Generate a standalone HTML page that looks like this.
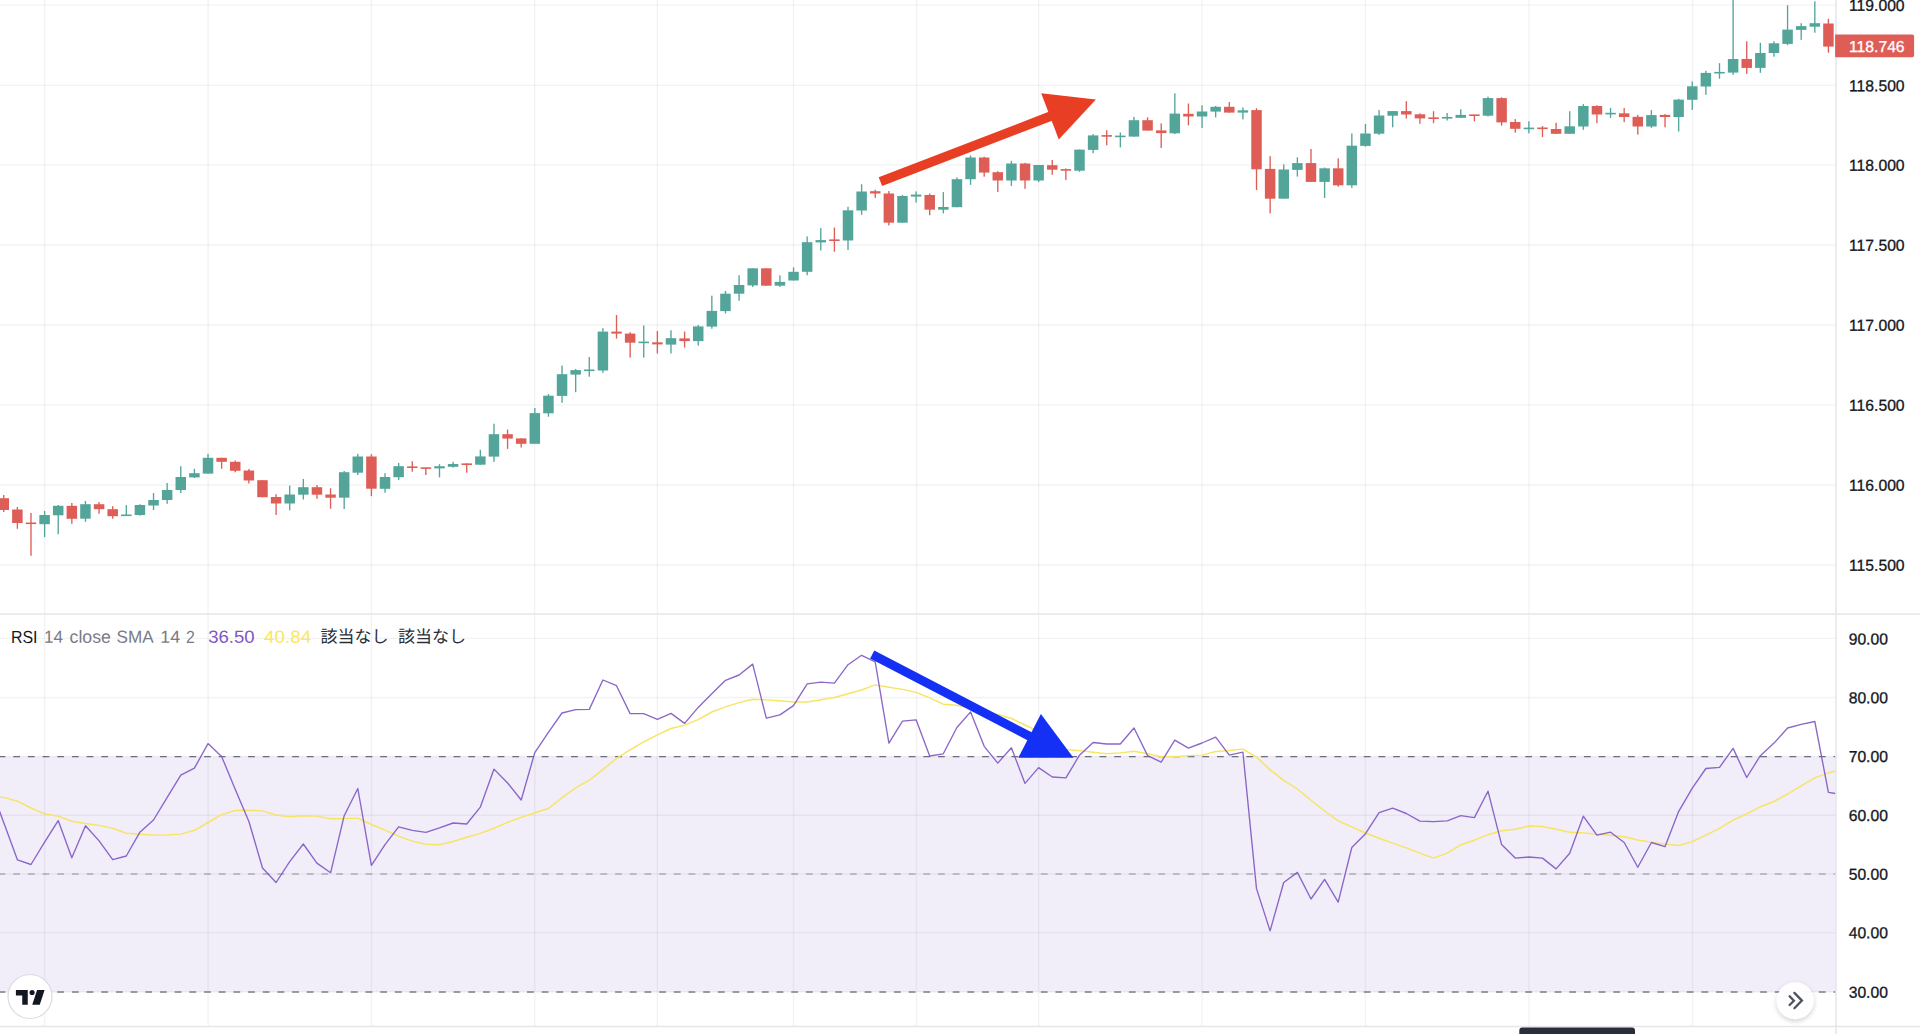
<!DOCTYPE html>
<html lang="ja"><head><meta charset="utf-8"><title>RSI divergence chart</title>
<style>html,body{margin:0;padding:0;background:#fff}body{width:1920px;height:1034px;overflow:hidden;position:relative;font-family:"Liberation Sans","Noto Sans CJK JP",sans-serif}svg{position:absolute;left:0;top:0;display:block}text{font-family:"Liberation Sans","Noto Sans CJK JP",sans-serif}</style></head><body>
<svg width="1920" height="1034" viewBox="0 0 1920 1034">
<rect width="1920" height="1034" fill="#fff"/>
<g stroke="#1e2828" stroke-opacity="0.056" stroke-width="1.4" fill="none">
<path d="M44.6 0V1026"/>
<path d="M208.1 0V1026"/>
<path d="M371.5 0V1026"/>
<path d="M534.7 0V1026"/>
<path d="M657.3 0V1026"/>
<path d="M793.5 0V1026"/>
<path d="M916.5 0V1026"/>
<path d="M1038.7 0V1026"/>
<path d="M1202 0V1026"/>
<path d="M1365.5 0V1026"/>
<path d="M1529 0V1026"/>
<path d="M1692.5 0V1026"/>
<path d="M0 5.1H1836.0"/>
<path d="M0 85.4H1836.0"/>
<path d="M0 164.9H1836.0"/>
<path d="M0 245H1836.0"/>
<path d="M0 325H1836.0"/>
<path d="M0 404.9H1836.0"/>
<path d="M0 485H1836.0"/>
<path d="M0 565H1836.0"/>
<path d="M0 638.4H1836.0"/>
<path d="M0 697.5H1836.0"/>
<path d="M0 756.5H1836.0"/>
<path d="M0 815.3H1836.0"/>
<path d="M0 874H1836.0"/>
<path d="M0 932.6H1836.0"/>
<path d="M0 992H1836.0"/>
</g>
<rect x="0" y="756.6" width="1836.0" height="235.4" fill="#7e57c2" fill-opacity="0.105"/>
<path d="M0 756.55H1835.5" stroke="#6c6d7e" stroke-width="1.3" stroke-dasharray="6.8 7.88" stroke-dashoffset="1.47" fill="none"/>
<path d="M0 874H1835.5" stroke="#787b86" stroke-opacity="0.55" stroke-width="1.4" stroke-dasharray="6.8 7.88" stroke-dashoffset="1.47" fill="none"/>
<path d="M0 992H1835.5" stroke="#7f7d8a" stroke-width="1.4" stroke-dasharray="6.8 7.88" stroke-dashoffset="1.47" fill="none"/>
<polyline points="-9.9,797.0 3.8,797.4 17.4,801.2 31.0,808.0 44.6,813.8 58.2,816.3 71.8,821.2 85.5,823.5 99.1,825.4 112.7,828.3 126.3,833.2 139.9,834.3 153.5,835.1 167.2,834.9 180.8,834.1 194.4,830.3 208.0,822.5 221.6,814.6 235.2,810.5 248.9,810.3 262.5,810.9 276.1,815.0 289.7,816.7 303.3,815.7 316.9,816.1 330.6,818.8 344.2,818.6 357.8,818.1 371.4,824.5 385.0,830.2 398.6,836.2 412.3,841.1 425.9,844.3 439.5,844.7 453.1,841.5 466.7,837.2 480.3,833.4 494.0,828.3 507.6,822.3 521.2,817.4 534.8,812.8 548.4,808.5 562.0,797.7 575.7,787.9 589.3,780.2 602.9,769.6 616.5,758.3 630.1,749.8 643.7,741.9 657.4,734.9 671.0,728.5 684.6,725.1 698.2,719.6 711.8,712.0 725.5,706.9 739.1,702.6 752.7,699.2 766.3,699.9 779.9,700.7 793.5,702.0 807.2,702.0 820.8,699.8 834.4,697.5 848.0,693.8 861.6,690.0 875.2,684.9 888.9,687.2 902.5,689.4 916.1,692.4 929.7,697.9 943.3,704.2 956.9,705.2 970.6,708.0 984.2,711.2 997.8,714.5 1011.4,718.5 1025.0,725.0 1038.6,731.3 1052.3,742.0 1065.9,749.5 1079.5,750.6 1093.1,752.2 1106.7,753.7 1120.3,752.9 1134.0,751.3 1147.6,753.7 1161.2,756.8 1174.8,756.6 1188.4,755.6 1202.0,755.1 1215.7,751.5 1229.3,750.5 1242.9,749.1 1256.5,757.1 1270.1,769.9 1283.7,780.3 1297.4,789.0 1311.0,800.3 1324.6,811.0 1338.2,820.9 1351.8,826.9 1365.5,833.0 1379.1,838.3 1392.7,843.1 1406.3,847.9 1419.9,853.1 1433.5,858.1 1447.2,853.1 1460.8,844.8 1474.4,840.2 1488.0,834.7 1501.6,830.8 1515.2,829.2 1528.9,826.0 1542.5,826.5 1556.1,829.2 1569.7,832.2 1583.3,832.9 1596.9,834.3 1610.6,835.2 1624.2,836.8 1637.8,840.0 1651.4,842.1 1665.0,844.1 1678.6,845.5 1692.3,841.6 1705.9,835.2 1719.5,828.3 1733.1,820.1 1746.7,813.9 1760.3,806.8 1774.0,801.5 1787.6,794.0 1801.2,785.9 1814.8,777.9 1828.4,772.9 1835.5,771" fill="none" stroke="#f6e562" stroke-width="1.45" stroke-linejoin="round"/>
<polyline points="-9.9,785.5 3.8,822.8 17.4,859.8 31.0,864.5 44.6,842.2 58.2,820.6 71.8,857.7 85.5,825.8 99.1,840.9 112.7,859.7 126.3,856.0 139.9,832.2 153.5,820.0 167.2,797.4 180.8,775.1 194.4,768.2 208.0,743.6 221.6,756.4 235.2,789.2 248.9,821.5 262.5,868.0 276.1,882.5 289.7,861.6 303.3,844.0 316.9,863.1 330.6,872.8 344.2,815.7 357.8,788.5 371.4,865.3 385.0,844.7 398.6,826.8 412.3,830.4 425.9,832.3 439.5,827.9 453.1,823.0 466.7,824.0 480.3,807.2 494.0,769.1 507.6,783.0 521.2,800.0 534.8,752.6 548.4,732.3 562.0,713.0 575.7,709.6 589.3,709.4 602.9,680.0 616.5,685.7 630.1,713.6 643.7,713.6 657.4,719.4 671.0,713.4 684.6,723.4 698.2,707.4 711.8,693.8 725.5,680.3 739.1,675.0 752.7,664.1 766.3,718.1 779.9,714.9 793.5,705.6 807.2,683.8 820.8,682.1 834.4,683.1 848.0,664.7 861.6,655.3 875.2,661.8 888.9,743.1 902.5,721.1 916.1,719.8 929.7,756.0 943.3,753.8 956.9,727.5 970.6,711.9 984.2,746.3 997.8,763.1 1011.4,747.7 1025.0,783.4 1038.6,767.6 1052.3,777.0 1065.9,777.9 1079.5,755.2 1093.1,742.5 1106.7,744.0 1120.3,744.0 1134.0,728.0 1147.6,755.6 1161.2,762.1 1174.8,740.1 1188.4,748.1 1202.0,743.0 1215.7,737.2 1229.3,755.1 1242.9,752.2 1256.5,888.6 1270.1,930.9 1283.7,882.5 1297.4,872.4 1311.0,899.0 1324.6,879.4 1338.2,902.1 1351.8,847.5 1365.5,833.7 1379.1,812.7 1392.7,808.1 1406.3,813.5 1419.9,821.2 1433.5,821.7 1447.2,820.8 1460.8,815.7 1474.4,817.6 1488.0,791.2 1501.6,844.6 1515.2,858.1 1528.9,857.0 1542.5,858.1 1556.1,868.9 1569.7,853.3 1583.3,816.2 1596.9,835.2 1610.6,832.2 1624.2,842.5 1637.8,867.3 1651.4,842.5 1665.0,846.7 1678.6,811.6 1692.3,788.2 1705.9,768.5 1719.5,767.4 1733.1,748.4 1746.7,777.5 1760.3,755.7 1774.0,743.1 1787.6,728.0 1801.2,724.3 1814.8,721.5 1828.4,792.3 1835.5,793.5" fill="none" stroke="#7e57c2" stroke-width="1.35" stroke-opacity="0.9" stroke-linejoin="round"/>
<g fill="#53a59a">
<rect x="43.93" y="511.0" width="1.35" height="26.0"/><rect x="39.35" y="515.0" width="10.5" height="9.2"/>
<rect x="57.54" y="505.0" width="1.35" height="29.2"/><rect x="52.97" y="505.8" width="10.5" height="9.5"/>
<rect x="84.78" y="501.0" width="1.35" height="20.8"/><rect x="80.20" y="504.2" width="10.5" height="14.5"/>
<rect x="125.63" y="505.0" width="1.35" height="11.0"/><rect x="121.05" y="514.5" width="10.5" height="1.6"/>
<rect x="139.25" y="504.2" width="1.35" height="11.5"/><rect x="134.67" y="505.0" width="10.5" height="10.0"/>
<rect x="152.86" y="493.0" width="1.35" height="17.0"/><rect x="148.29" y="500.0" width="10.5" height="5.5"/>
<rect x="166.48" y="483.0" width="1.35" height="20.8"/><rect x="161.90" y="490.0" width="10.5" height="10.0"/>
<rect x="180.10" y="466.2" width="1.35" height="26.8"/><rect x="175.52" y="477.0" width="10.5" height="13.0"/>
<rect x="193.71" y="468.8" width="1.35" height="9.2"/><rect x="189.14" y="473.2" width="10.5" height="4.2"/>
<rect x="207.33" y="453.8" width="1.35" height="19.8"/><rect x="202.76" y="457.8" width="10.5" height="15.8"/>
<rect x="289.03" y="485.5" width="1.35" height="24.8"/><rect x="284.46" y="494.5" width="10.5" height="9.0"/>
<rect x="302.65" y="479.0" width="1.35" height="20.5"/><rect x="298.07" y="487.2" width="10.5" height="7.5"/>
<rect x="343.50" y="471.0" width="1.35" height="38.0"/><rect x="338.93" y="472.2" width="10.5" height="25.5"/>
<rect x="357.12" y="453.8" width="1.35" height="21.2"/><rect x="352.54" y="456.5" width="10.5" height="16.2"/>
<rect x="384.35" y="473.2" width="1.35" height="19.5"/><rect x="379.78" y="477.0" width="10.5" height="11.8"/>
<rect x="397.97" y="463.0" width="1.35" height="17.0"/><rect x="393.39" y="466.2" width="10.5" height="11.0"/>
<rect x="438.82" y="464.2" width="1.35" height="13.2"/><rect x="434.24" y="466.2" width="10.5" height="2.2"/>
<rect x="452.44" y="461.8" width="1.35" height="5.8"/><rect x="447.86" y="464.0" width="10.5" height="2.8"/>
<rect x="479.67" y="449.8" width="1.35" height="14.9"/><rect x="475.10" y="456.4" width="10.5" height="8.3"/>
<rect x="493.29" y="423.7" width="1.35" height="38.1"/><rect x="488.71" y="434.2" width="10.5" height="22.4"/>
<rect x="534.14" y="408.0" width="1.35" height="35.8"/><rect x="529.56" y="413.1" width="10.5" height="30.7"/>
<rect x="547.76" y="394.1" width="1.35" height="22.6"/><rect x="543.18" y="395.7" width="10.5" height="17.6"/>
<rect x="561.37" y="365.5" width="1.35" height="37.3"/><rect x="556.80" y="374.2" width="10.5" height="21.7"/>
<rect x="574.99" y="369.0" width="1.35" height="23.2"/><rect x="570.41" y="370.1" width="10.5" height="4.5"/>
<rect x="588.61" y="357.0" width="1.35" height="19.7"/><rect x="584.03" y="369.5" width="10.5" height="1.6"/>
<rect x="602.22" y="328.2" width="1.35" height="44.6"/><rect x="597.65" y="331.6" width="10.5" height="38.9"/>
<rect x="643.07" y="325.5" width="1.35" height="32.1"/><rect x="638.50" y="341.6" width="10.5" height="1.6"/>
<rect x="670.31" y="330.3" width="1.35" height="23.2"/><rect x="665.73" y="338.2" width="10.5" height="6.4"/>
<rect x="697.54" y="325.0" width="1.35" height="20.6"/><rect x="692.97" y="326.4" width="10.5" height="14.7"/>
<rect x="711.16" y="295.7" width="1.35" height="33.0"/><rect x="706.58" y="310.9" width="10.5" height="15.7"/>
<rect x="724.78" y="291.0" width="1.35" height="22.5"/><rect x="720.20" y="293.7" width="10.5" height="17.4"/>
<rect x="738.39" y="275.3" width="1.35" height="25.4"/><rect x="733.82" y="285.0" width="10.5" height="8.7"/>
<rect x="752.01" y="268.3" width="1.35" height="18.6"/><rect x="747.44" y="268.3" width="10.5" height="17.1"/>
<rect x="779.24" y="275.3" width="1.35" height="11.6"/><rect x="774.67" y="281.9" width="10.5" height="3.8"/>
<rect x="792.86" y="267.4" width="1.35" height="13.1"/><rect x="788.29" y="271.8" width="10.5" height="8.7"/>
<rect x="806.48" y="236.4" width="1.35" height="38.9"/><rect x="801.90" y="242.2" width="10.5" height="29.6"/>
<rect x="820.10" y="228.1" width="1.35" height="22.4"/><rect x="815.52" y="240.1" width="10.5" height="2.3"/>
<rect x="847.33" y="206.8" width="1.35" height="43.2"/><rect x="842.75" y="210.3" width="10.5" height="30.2"/>
<rect x="860.95" y="184.2" width="1.35" height="30.6"/><rect x="856.37" y="191.5" width="10.5" height="19.0"/>
<rect x="901.80" y="195.0" width="1.35" height="27.7"/><rect x="897.22" y="196.0" width="10.5" height="26.7"/>
<rect x="915.41" y="191.4" width="1.35" height="11.2"/><rect x="910.84" y="194.6" width="10.5" height="2.0"/>
<rect x="942.65" y="192.1" width="1.35" height="21.3"/><rect x="938.07" y="207.0" width="10.5" height="2.7"/>
<rect x="956.27" y="177.4" width="1.35" height="29.8"/><rect x="951.69" y="179.2" width="10.5" height="28.0"/>
<rect x="969.88" y="155.4" width="1.35" height="29.4"/><rect x="965.31" y="157.5" width="10.5" height="21.7"/>
<rect x="1010.73" y="160.8" width="1.35" height="25.1"/><rect x="1006.16" y="163.5" width="10.5" height="17.0"/>
<rect x="1037.97" y="165.0" width="1.35" height="17.1"/><rect x="1033.39" y="165.0" width="10.5" height="15.5"/>
<rect x="1078.82" y="149.6" width="1.35" height="22.2"/><rect x="1074.24" y="149.6" width="10.5" height="21.1"/>
<rect x="1092.44" y="134.1" width="1.35" height="19.1"/><rect x="1087.86" y="135.4" width="10.5" height="14.5"/>
<rect x="1119.67" y="132.5" width="1.35" height="14.9"/><rect x="1115.09" y="135.6" width="10.5" height="1.6"/>
<rect x="1133.29" y="116.9" width="1.35" height="19.7"/><rect x="1128.71" y="120.2" width="10.5" height="16.4"/>
<rect x="1174.14" y="93.3" width="1.35" height="40.8"/><rect x="1169.56" y="113.6" width="10.5" height="19.7"/>
<rect x="1201.37" y="105.3" width="1.35" height="22.6"/><rect x="1196.80" y="111.5" width="10.5" height="5.0"/>
<rect x="1214.99" y="106.0" width="1.35" height="11.4"/><rect x="1210.41" y="106.8" width="10.5" height="4.8"/>
<rect x="1242.22" y="107.4" width="1.35" height="12.0"/><rect x="1237.65" y="110.3" width="10.5" height="2.3"/>
<rect x="1283.07" y="164.3" width="1.35" height="34.4"/><rect x="1278.50" y="169.5" width="10.5" height="29.2"/>
<rect x="1296.69" y="157.3" width="1.35" height="19.3"/><rect x="1292.12" y="163.1" width="10.5" height="6.8"/>
<rect x="1323.92" y="167.5" width="1.35" height="30.4"/><rect x="1319.35" y="168.3" width="10.5" height="13.6"/>
<rect x="1351.16" y="133.5" width="1.35" height="54.4"/><rect x="1346.58" y="145.7" width="10.5" height="39.6"/>
<rect x="1364.78" y="124.0" width="1.35" height="22.7"/><rect x="1360.20" y="133.5" width="10.5" height="12.4"/>
<rect x="1378.39" y="110.1" width="1.35" height="24.9"/><rect x="1373.82" y="115.5" width="10.5" height="18.2"/>
<rect x="1392.01" y="111.1" width="1.35" height="16.2"/><rect x="1387.43" y="111.1" width="10.5" height="4.6"/>
<rect x="1446.48" y="113.0" width="1.35" height="7.5"/><rect x="1441.90" y="117.0" width="10.5" height="1.6"/>
<rect x="1460.09" y="109.3" width="1.35" height="8.5"/><rect x="1455.52" y="114.9" width="10.5" height="2.9"/>
<rect x="1487.33" y="96.7" width="1.35" height="19.9"/><rect x="1482.75" y="98.1" width="10.5" height="17.6"/>
<rect x="1528.18" y="121.3" width="1.35" height="12.0"/><rect x="1523.60" y="127.6" width="10.5" height="1.6"/>
<rect x="1569.03" y="111.2" width="1.35" height="22.6"/><rect x="1564.46" y="126.3" width="10.5" height="7.5"/>
<rect x="1582.65" y="104.1" width="1.35" height="25.7"/><rect x="1578.07" y="106.0" width="10.5" height="20.5"/>
<rect x="1609.88" y="107.9" width="1.35" height="9.9"/><rect x="1605.31" y="112.8" width="10.5" height="1.6"/>
<rect x="1650.73" y="110.1" width="1.35" height="17.8"/><rect x="1646.16" y="115.1" width="10.5" height="11.4"/>
<rect x="1677.97" y="98.8" width="1.35" height="32.7"/><rect x="1673.39" y="99.6" width="10.5" height="17.4"/>
<rect x="1691.58" y="81.4" width="1.35" height="28.5"/><rect x="1687.01" y="86.3" width="10.5" height="13.5"/>
<rect x="1705.20" y="70.8" width="1.35" height="24.0"/><rect x="1700.62" y="72.9" width="10.5" height="13.6"/>
<rect x="1718.82" y="63.2" width="1.35" height="15.5"/><rect x="1714.24" y="71.9" width="10.5" height="1.6"/>
<rect x="1732.43" y="-2.0" width="1.35" height="76.8"/><rect x="1727.86" y="59.0" width="10.5" height="13.6"/>
<rect x="1759.67" y="42.8" width="1.35" height="30.0"/><rect x="1755.09" y="53.0" width="10.5" height="14.9"/>
<rect x="1773.29" y="41.3" width="1.35" height="15.4"/><rect x="1768.71" y="43.3" width="10.5" height="9.7"/>
<rect x="1786.90" y="5.2" width="1.35" height="40.0"/><rect x="1782.33" y="29.6" width="10.5" height="14.3"/>
<rect x="1800.52" y="23.2" width="1.35" height="16.7"/><rect x="1795.94" y="26.1" width="10.5" height="3.8"/>
<rect x="1814.14" y="1.3" width="1.35" height="31.4"/><rect x="1809.56" y="23.2" width="10.5" height="3.5"/>
</g>
<g fill="#de5e57">
<rect x="3.08" y="495.0" width="1.35" height="17.0"/><rect x="-1.50" y="498.2" width="10.5" height="11.8"/>
<rect x="16.69" y="507.0" width="1.35" height="21.8"/><rect x="12.12" y="509.5" width="10.5" height="13.5"/>
<rect x="30.31" y="513.0" width="1.35" height="42.8"/><rect x="25.73" y="522.5" width="10.5" height="1.6"/>
<rect x="71.16" y="503.0" width="1.35" height="20.8"/><rect x="66.59" y="505.8" width="10.5" height="13.0"/>
<rect x="98.39" y="502.0" width="1.35" height="11.8"/><rect x="93.82" y="504.2" width="10.5" height="5.0"/>
<rect x="112.01" y="506.2" width="1.35" height="12.5"/><rect x="107.44" y="509.2" width="10.5" height="7.0"/>
<rect x="220.95" y="457.8" width="1.35" height="11.0"/><rect x="216.37" y="457.8" width="10.5" height="4.0"/>
<rect x="234.56" y="460.5" width="1.35" height="11.8"/><rect x="229.99" y="461.8" width="10.5" height="9.0"/>
<rect x="248.18" y="469.0" width="1.35" height="14.5"/><rect x="243.61" y="470.5" width="10.5" height="10.0"/>
<rect x="261.80" y="480.2" width="1.35" height="17.0"/><rect x="257.22" y="480.2" width="10.5" height="17.0"/>
<rect x="275.42" y="494.2" width="1.35" height="20.8"/><rect x="270.84" y="497.0" width="10.5" height="6.5"/>
<rect x="316.27" y="485.0" width="1.35" height="13.8"/><rect x="311.69" y="487.2" width="10.5" height="7.5"/>
<rect x="329.88" y="488.2" width="1.35" height="20.5"/><rect x="325.31" y="494.5" width="10.5" height="3.2"/>
<rect x="370.73" y="454.2" width="1.35" height="42.0"/><rect x="366.16" y="456.5" width="10.5" height="32.2"/>
<rect x="411.59" y="461.2" width="1.35" height="10.5"/><rect x="407.01" y="466.4" width="10.5" height="1.6"/>
<rect x="425.20" y="467.5" width="1.35" height="7.5"/><rect x="420.63" y="467.3" width="10.5" height="1.6"/>
<rect x="466.05" y="463.2" width="1.35" height="9.5"/><rect x="461.48" y="463.4" width="10.5" height="1.6"/>
<rect x="506.90" y="429.5" width="1.35" height="19.4"/><rect x="502.33" y="434.2" width="10.5" height="4.4"/>
<rect x="520.52" y="438.4" width="1.35" height="9.1"/><rect x="515.95" y="438.4" width="10.5" height="5.4"/>
<rect x="615.84" y="315.0" width="1.35" height="23.6"/><rect x="611.26" y="331.6" width="10.5" height="2.0"/>
<rect x="629.46" y="332.2" width="1.35" height="25.4"/><rect x="624.88" y="333.6" width="10.5" height="9.1"/>
<rect x="656.69" y="331.0" width="1.35" height="22.5"/><rect x="652.12" y="342.3" width="10.5" height="2.1"/>
<rect x="683.93" y="331.5" width="1.35" height="16.0"/><rect x="679.35" y="338.4" width="10.5" height="2.7"/>
<rect x="765.63" y="268.3" width="1.35" height="17.4"/><rect x="761.05" y="268.3" width="10.5" height="17.4"/>
<rect x="833.71" y="227.5" width="1.35" height="24.2"/><rect x="829.14" y="239.4" width="10.5" height="1.6"/>
<rect x="874.56" y="189.8" width="1.35" height="8.1"/><rect x="869.99" y="191.2" width="10.5" height="2.3"/>
<rect x="888.18" y="191.0" width="1.35" height="34.4"/><rect x="883.61" y="193.5" width="10.5" height="29.2"/>
<rect x="929.03" y="193.5" width="1.35" height="21.8"/><rect x="924.46" y="195.0" width="10.5" height="14.7"/>
<rect x="983.50" y="156.7" width="1.35" height="20.0"/><rect x="978.92" y="157.5" width="10.5" height="15.1"/>
<rect x="997.12" y="171.2" width="1.35" height="20.7"/><rect x="992.54" y="172.2" width="10.5" height="8.3"/>
<rect x="1024.35" y="162.9" width="1.35" height="25.9"/><rect x="1019.78" y="163.5" width="10.5" height="17.0"/>
<rect x="1051.58" y="160.0" width="1.35" height="14.7"/><rect x="1047.01" y="165.2" width="10.5" height="4.5"/>
<rect x="1065.20" y="168.4" width="1.35" height="11.6"/><rect x="1060.63" y="169.1" width="10.5" height="1.6"/>
<rect x="1106.05" y="130.2" width="1.35" height="15.1"/><rect x="1101.48" y="135.1" width="10.5" height="1.6"/>
<rect x="1146.90" y="117.3" width="1.35" height="13.3"/><rect x="1142.33" y="120.2" width="10.5" height="10.4"/>
<rect x="1160.52" y="123.4" width="1.35" height="24.6"/><rect x="1155.95" y="130.4" width="10.5" height="2.7"/>
<rect x="1187.75" y="103.5" width="1.35" height="21.9"/><rect x="1183.18" y="113.8" width="10.5" height="2.7"/>
<rect x="1228.61" y="102.0" width="1.35" height="10.6"/><rect x="1224.03" y="106.8" width="10.5" height="5.8"/>
<rect x="1255.84" y="108.2" width="1.35" height="81.8"/><rect x="1251.26" y="110.1" width="10.5" height="59.2"/>
<rect x="1269.46" y="156.1" width="1.35" height="57.3"/><rect x="1264.88" y="168.9" width="10.5" height="29.8"/>
<rect x="1310.31" y="149.0" width="1.35" height="32.9"/><rect x="1305.73" y="163.1" width="10.5" height="18.8"/>
<rect x="1337.54" y="158.3" width="1.35" height="28.4"/><rect x="1332.97" y="168.3" width="10.5" height="17.0"/>
<rect x="1405.63" y="101.2" width="1.35" height="17.3"/><rect x="1401.05" y="111.1" width="10.5" height="3.4"/>
<rect x="1419.24" y="113.3" width="1.35" height="10.5"/><rect x="1414.67" y="114.3" width="10.5" height="4.1"/>
<rect x="1432.86" y="111.2" width="1.35" height="12.0"/><rect x="1428.29" y="117.4" width="10.5" height="1.6"/>
<rect x="1473.71" y="114.7" width="1.35" height="6.6"/><rect x="1469.14" y="114.4" width="10.5" height="1.6"/>
<rect x="1500.95" y="97.3" width="1.35" height="28.4"/><rect x="1496.37" y="98.1" width="10.5" height="24.3"/>
<rect x="1514.56" y="119.1" width="1.35" height="13.6"/><rect x="1509.99" y="122.0" width="10.5" height="6.8"/>
<rect x="1541.80" y="126.1" width="1.35" height="11.0"/><rect x="1537.22" y="127.5" width="10.5" height="1.6"/>
<rect x="1555.41" y="122.8" width="1.35" height="11.0"/><rect x="1550.84" y="129.0" width="10.5" height="4.8"/>
<rect x="1596.26" y="105.2" width="1.35" height="18.0"/><rect x="1591.69" y="106.0" width="10.5" height="8.5"/>
<rect x="1623.50" y="108.1" width="1.35" height="14.0"/><rect x="1618.92" y="113.3" width="10.5" height="3.7"/>
<rect x="1637.12" y="114.9" width="1.35" height="19.7"/><rect x="1632.54" y="116.8" width="10.5" height="9.7"/>
<rect x="1664.35" y="114.1" width="1.35" height="13.2"/><rect x="1659.77" y="114.9" width="10.5" height="2.1"/>
<rect x="1746.05" y="41.3" width="1.35" height="32.6"/><rect x="1741.48" y="59.0" width="10.5" height="8.9"/>
<rect x="1827.75" y="18.8" width="1.35" height="33.9"/><rect x="1823.18" y="23.5" width="10.5" height="23.1"/>
</g>
<g fill="#e83f24" stroke="none"><path d="M880.4 181.6L1051 116" stroke="#e83f24" stroke-width="9.4" fill="none"/><path d="M1041.2 93.3L1095.9 99.4L1058.8 139.6Z"/></g>
<g fill="#1430f5" stroke="none"><path d="M872.2 654.5L1031 737" stroke="#1430f5" stroke-width="9" fill="none"/><path d="M1040.9 714L1073.4 757.7L1018.3 757.7Z"/></g>
<rect x="1836.0" y="0" width="84.0" height="1034" fill="#fff"/>
<g stroke="#e5e6ea" stroke-width="1.5" fill="none"><path d="M1836.0 0V1034"/><path d="M0 613.9H1920"/><path d="M0 1026.6H1920"/></g>
<path d="M1835.1 34.6H1912.1Q1914.1 34.6 1914.1 36.6V55.3Q1914.1 57.3 1912.1 57.3H1835.1Z" fill="#de5e57"/>
<g font-size="15.9px" fill="#131722" stroke="#131722" stroke-width="0.3">
<text x="1849.0" y="10.85" transform="rotate(0.03 1849.0 10.85)" textLength="55.6" lengthAdjust="spacingAndGlyphs">119.000</text>
<text x="1849.0" y="91.15" transform="rotate(0.03 1849.0 91.15)" textLength="55.6" lengthAdjust="spacingAndGlyphs">118.500</text>
<text x="1849.0" y="170.65" transform="rotate(0.03 1849.0 170.65)" textLength="55.6" lengthAdjust="spacingAndGlyphs">118.000</text>
<text x="1849.0" y="250.75" transform="rotate(0.03 1849.0 250.75)" textLength="55.6" lengthAdjust="spacingAndGlyphs">117.500</text>
<text x="1849.0" y="330.75" transform="rotate(0.03 1849.0 330.75)" textLength="55.6" lengthAdjust="spacingAndGlyphs">117.000</text>
<text x="1849.0" y="410.65" transform="rotate(0.03 1849.0 410.65)" textLength="55.6" lengthAdjust="spacingAndGlyphs">116.500</text>
<text x="1849.0" y="490.75" transform="rotate(0.03 1849.0 490.75)" textLength="55.6" lengthAdjust="spacingAndGlyphs">116.000</text>
<text x="1849.0" y="570.75" transform="rotate(0.03 1849.0 570.75)" textLength="55.6" lengthAdjust="spacingAndGlyphs">115.500</text>
<text x="1848.7" y="644.55" transform="rotate(0.03 1848.7 644.55)" textLength="39.2" lengthAdjust="spacingAndGlyphs">90.00</text>
<text x="1848.7" y="703.15" transform="rotate(0.03 1848.7 703.15)" textLength="39.2" lengthAdjust="spacingAndGlyphs">80.00</text>
<text x="1848.7" y="762.05" transform="rotate(0.03 1848.7 762.05)" textLength="39.2" lengthAdjust="spacingAndGlyphs">70.00</text>
<text x="1848.7" y="821.05" transform="rotate(0.03 1848.7 821.05)" textLength="39.2" lengthAdjust="spacingAndGlyphs">60.00</text>
<text x="1848.7" y="879.75" transform="rotate(0.03 1848.7 879.75)" textLength="39.2" lengthAdjust="spacingAndGlyphs">50.00</text>
<text x="1848.7" y="938.25" transform="rotate(0.03 1848.7 938.25)" textLength="39.2" lengthAdjust="spacingAndGlyphs">40.00</text>
<text x="1848.7" y="997.75" transform="rotate(0.03 1848.7 997.75)" textLength="39.2" lengthAdjust="spacingAndGlyphs">30.00</text>
</g>
<text x="1849.0" y="52.05" transform="rotate(0.03 1849.0 52)" font-size="15.9px" fill="#fff" stroke="#fff" stroke-width="0.3" textLength="55.6" lengthAdjust="spacingAndGlyphs">118.746</text>
<g font-size="17.5px">
<text x="10.9" y="642.7" transform="rotate(0.03 10.9 642.7)" fill="#131722" textLength="26.6" lengthAdjust="spacingAndGlyphs">RSI</text>
<text x="44" y="642.7" transform="rotate(0.03 44 642.7)" fill="#787b86" textLength="19.06" lengthAdjust="spacingAndGlyphs">14</text>
<text x="69.6" y="642.7" transform="rotate(0.03 69.6 642.7)" fill="#787b86" textLength="41.3" lengthAdjust="spacingAndGlyphs">close</text>
<text x="116.5" y="642.7" transform="rotate(0.03 116.5 642.7)" fill="#787b86" textLength="37.06" lengthAdjust="spacingAndGlyphs">SMA</text>
<text x="160.3" y="642.7" transform="rotate(0.03 160.3 642.7)" fill="#787b86" textLength="19.8" lengthAdjust="spacingAndGlyphs">14</text>
<text x="186.0" y="642.7" transform="rotate(0.03 186.0 642.7)" fill="#787b86" textLength="8.8" lengthAdjust="spacingAndGlyphs">2</text>
<text x="208.3" y="642.7" transform="rotate(0.03 208.3 642.7)" fill="#7e57c2" textLength="46.3" lengthAdjust="spacingAndGlyphs">36.50</text>
<text x="264.1" y="642.7" transform="rotate(0.03 264.1 642.7)" fill="#fbe75c" textLength="47.0" lengthAdjust="spacingAndGlyphs">40.84</text>
<text x="320.6" y="642.6" transform="rotate(0.03 320.6 642.6)" fill="#2a2e39" font-size="17.1px" textLength="67.8" lengthAdjust="spacingAndGlyphs">該当なし</text>
<text x="397.9" y="642.6" transform="rotate(0.03 397.9 642.6)" fill="#2a2e39" font-size="17.1px" textLength="68.0" lengthAdjust="spacingAndGlyphs">該当なし</text>
</g>
<path d="M1519.3 1034V1030.5Q1519.3 1027.6 1522.2 1027.6H1632.1Q1635 1027.6 1635 1030.5V1034Z" fill="#2a2e39"/>
<defs><filter id="sh" x="-50%" y="-50%" width="200%" height="200%"><feDropShadow dx="0" dy="2" stdDeviation="2.6" flood-color="#000" flood-opacity="0.2"/></filter></defs>
<circle cx="30" cy="996.5" r="22" fill="#fff" stroke="#d9dbe2" stroke-width="1.2"/>
<g fill="#131722"><path d="M15.9 990H27.75V1004.75H22.25V995.4H15.9Z"/><circle cx="32.1" cy="992.5" r="2.55"/><path d="M37.1 990H44.6L39.75 1004.75H32.25Z"/></g>
<circle cx="1795.2" cy="1000.7" r="18.5" fill="#fff" fill-opacity="0.96" filter="url(#sh)"/>
<g fill="none" stroke="#50535e" stroke-width="2.3" stroke-linejoin="miter" stroke-linecap="round"><path d="M1789.6 996.3L1793.9 1000.7L1789.6 1005"/><path d="M1794.4 992.9L1801.9 1000.6L1794.4 1008.2"/></g>
</svg></body></html>
